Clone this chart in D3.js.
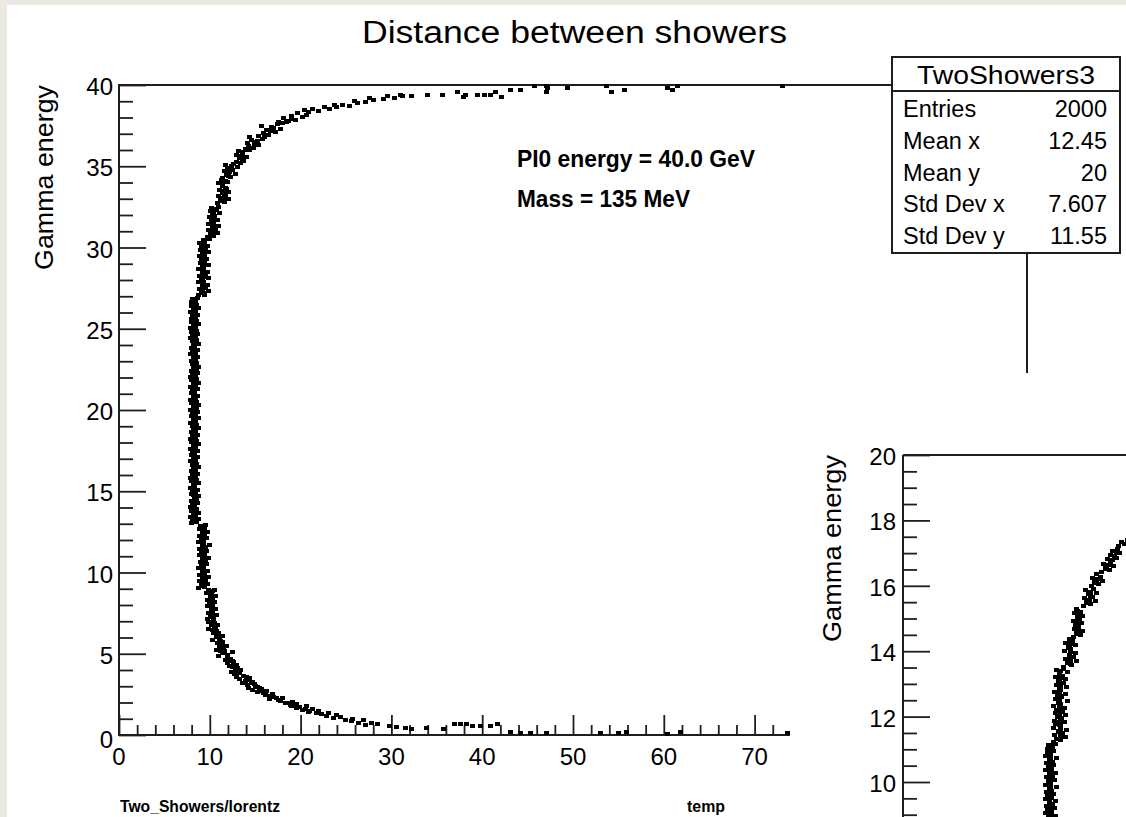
<!DOCTYPE html>
<html><head><meta charset="utf-8">
<script src="https://cdn.jsdelivr.net/npm/d3@7"></script>
<style>
html,body{margin:0;padding:0;background:#ece9e3;}
svg{display:block;}
text{font-family:"Liberation Sans",Arial,Helvetica,sans-serif;fill:#000;}
</style></head><body>
<svg id="c" width="1126" height="817"></svg>
<script>
// ---------------- DATA (distance, gamma energy) ----------------
const mainLowTail = [[33.9,0.43],[35.7,0.37],[37.0,0.68],[37.6,0.68],[38.3,0.68],[38.9,0.55],[39.8,0.55],[40.9,0.55],[41.7,0.68],[43.1,0.18],[44.2,0.12],[45.3,0.12],[47.1,0.12],[53.0,0.12],[55.0,0.12],[55.9,0.18],[60.4,0.06],[61.8,0.18],[73.6,0.12]];
const mainLowCurve = [[30.6,0.48],[31.5,0.43],[32.2,0.40],
[27.2,0.62],[28.5,0.66],[29.8,0.58],[26.4,0.76],[27.8,0.72],[25.6,0.86],[26.9,0.90],
[24.9,0.95],[25.7,1.00],[23.6,1.05],[24.4,1.12],[22.9,1.18],[23.9,1.24],[22.3,1.30],[23.1,1.36],
[21.8,1.38],[20.9,1.44],[22.0,1.50],[20.2,1.55],[21.3,1.60],[19.5,1.66],
[19.9,1.74],[20.6,1.78],[18.9,1.85],[19.6,1.92],[18.3,1.98],[19.1,2.04],[17.8,2.10],
[17.6,2.18],[16.6,2.24],[18.0,2.30],[17.0,2.36],[16.1,2.44],[16.9,2.50],[15.9,2.56],
[15.2,2.62],[16.2,2.68],[14.7,2.75],[15.7,2.82],[14.3,2.92],[15.3,2.98],[14.1,3.08],[14.9,3.14],
[13.6,3.22],[14.7,3.27],[14.1,3.38],[13.3,3.45],[14.4,3.50],[12.9,3.60],[13.7,3.66],[12.7,3.74],
[12.4,3.85],[13.3,3.90],[12.85,4.02],[13.1,4.12],[12.2,4.22],[12.9,4.30],[11.9,4.42],[12.6,4.50],[11.7,4.62],[12.3,4.70],
[11.0,4.85],[11.9,4.90],[11.45,5.02],[12.5,5.08],[11.2,5.15],
[10.7,5.25],[11.5,5.31],[11.05,5.45],[11.85,5.50],[10.8,5.64],[11.4,5.70],
[10.3,5.86],[11.1,5.92],[10.7,6.05],[11.35,6.11],[10.4,6.25],[10.95,6.30],[10.25,6.45],
[9.9,6.55],[10.65,6.60],[10.2,6.75],[10.85,6.80],[9.85,6.95],[10.45,7.02]];
const mainLowCurveFill = [[10.55,6.88],[10.50,6.68],[10.70,6.38],[10.85,6.18],[11.20,5.78],[11.30,5.58],[11.25,5.38],[11.60,5.19],[12.00,4.95],[12.00,4.78],[12.55,4.58],[12.65,4.36],[12.45,4.18],[13.40,3.97],[13.20,3.80],[14.00,3.56],[13.90,3.33],[14.60,3.18],[15.00,3.02],[15.50,2.88],[15.80,2.72],[17.30,2.28],[16.70,2.40],[19.00,1.80],[18.60,2.00],[21.00,1.50],[20.50,1.62]];
const mainLowBand = [[9.75,7.12],[10.40,7.18],[10.05,7.33],[10.70,7.38],[9.85,7.52],[10.30,7.58],[10.15,7.72],[10.62,7.77],[9.70,7.91],[10.25,7.97],[9.95,8.12],[10.55,8.17],[9.80,8.31],[10.35,8.37],[10.08,8.52],[10.66,8.56],[9.68,8.71],[10.20,8.77],[9.90,8.90],[10.48,8.95],
[8.80,9.05],[9.45,9.10],[9.10,9.27],[9.78,9.31],[8.92,9.46],[9.55,9.52],[9.22,9.66],[9.88,9.70],[8.85,9.86],[9.40,9.91],[9.15,10.05],[9.70,10.11],[8.78,10.26],[9.35,10.30],[9.05,10.45],[9.62,10.52],[8.95,10.66],[9.50,10.70],[9.25,10.86],[9.82,10.90],[8.82,11.05],[9.42,11.11],[9.12,11.26],[9.68,11.30],[8.90,11.46],[9.48,11.50],[9.20,11.65],[9.92,11.71],[8.76,11.85],[9.33,11.90],[9.08,12.06],[9.64,12.10],[8.88,12.25],[9.44,12.31],[9.18,12.46],[9.75,12.50],[8.83,12.65],[9.38,12.71],[9.02,12.85],[9.58,12.90]];
const mainLowBandFill = [[10.20,7.25],[10.28,7.45],[10.22,7.65],[10.30,7.85],[10.18,8.05],[10.25,8.25],[10.32,8.45],[10.21,8.65],[10.27,8.85],
[9.30,9.18],[9.25,9.38],[9.34,9.58],[9.28,9.78],[9.22,9.98],[9.31,10.18],[9.27,10.38],[9.36,10.58],[9.24,10.78],[9.30,10.98],[9.33,11.18],[9.25,11.38],[9.38,11.58],[9.28,11.78],[9.21,11.98],[9.32,12.18],[9.27,12.38],[9.35,12.58],[9.23,12.78]];
const mainMidBand = [[7.95,13.02],[8.52,13.08],[8.10,13.21],[8.71,13.27],[7.88,13.40],[8.44,13.46],[8.20,13.63],[8.79,13.66],[8.02,13.81],[8.58,13.88],[7.91,14.03],[8.37,14.07],[8.14,14.22],[8.66,14.29],[7.99,14.41],[8.49,14.47],[8.26,14.62],[8.81,14.68],[7.93,14.83],[8.41,14.86],[8.07,15.02],[8.62,15.09],[7.86,15.23],[8.35,15.27],[8.18,15.44],[8.73,15.48],[8.01,15.62],[8.55,15.69],[7.90,15.82],[8.45,15.87],[8.12,16.03],[8.68,16.08],[7.97,16.24],[8.39,16.29],[8.23,16.43],[8.77,16.47],[8.05,16.64],[8.51,16.70],[7.89,16.84],[8.43,16.88],[8.16,17.03],[8.70,17.09],[7.94,17.22],[8.36,17.29],[8.09,17.44],[8.60,17.48],[7.87,17.63],[8.47,17.68],[8.21,17.83],[8.75,17.89],[8.00,18.03],[8.53,18.07],[7.92,18.24],[8.40,18.29],[8.13,18.43],[8.67,18.49],[7.98,18.62],[8.48,18.68],[8.25,18.84],[8.80,18.87],[8.04,19.03],[8.57,19.09],[7.88,19.23],[8.42,19.27],[8.17,19.44],[8.71,19.48],[7.95,19.62],[8.38,19.69],[8.11,19.83],[8.63,19.88],[7.90,20.03],[8.50,20.08],[8.22,20.22],[8.76,20.28],[8.03,20.43],[8.54,20.47],[7.86,20.64],[8.44,20.68],[8.15,20.82],[8.69,20.89],[7.96,21.03],[8.37,21.07],[8.08,21.24],[8.61,21.29],[7.91,21.42],[8.46,21.48],[8.19,21.63],[8.74,21.68],[8.02,21.83],[8.52,21.88],[7.89,22.02],[8.41,22.08],[8.13,22.22],[8.66,22.29],[7.97,22.43],[8.49,22.47],[8.24,22.64],[8.78,22.67],[8.06,22.83],[8.56,22.89],[7.93,23.03],[8.40,23.07],[8.16,23.24],[8.70,23.28],[7.87,23.42],[8.45,23.49],[8.10,23.62],[8.64,23.68],[7.99,23.84],[8.36,23.88],[8.20,24.03],[8.77,24.08],[8.04,24.22],[8.55,24.29],[7.92,24.43],[8.43,24.47],[8.14,24.63],[8.68,24.69],[7.96,24.82],[8.50,24.88],[7.88,25.03],[8.39,25.07],[8.22,25.24],[8.74,25.27],[8.01,25.43],[8.57,25.48],[7.94,25.62],[8.42,25.69],[8.12,25.83],[8.65,25.87],[7.90,26.04],[8.47,26.08],[8.18,26.23],[8.72,26.28],[8.03,26.42],[8.53,26.48],[7.95,26.63],[8.41,26.67],[8.09,26.84],[8.62,26.88]];
const mainMidBandFill = [[8.30,13.12],[8.26,13.33],[8.34,13.55],[8.29,13.74],[8.22,13.95],[8.31,14.15],[8.27,14.35],[8.36,14.55],[8.24,14.75],[8.30,14.95],[8.33,15.16],[8.25,15.35],[8.38,15.55],[8.28,15.76],[8.21,15.95],[8.32,16.16],[8.27,16.36],[8.35,16.56],[8.23,16.76],[8.30,16.96],[8.28,17.16],[8.34,17.36],[8.24,17.56],[8.31,17.76],[8.26,17.96],[8.37,18.16],[8.29,18.36],[8.22,18.56],[8.33,18.76],[8.27,18.96],[8.35,19.16],[8.25,19.36],[8.30,19.56],[8.28,19.76],[8.36,19.96],[8.23,20.16],[8.32,20.36],[8.27,20.56],[8.34,20.76],[8.26,20.96],[8.31,21.16],[8.24,21.36],[8.38,21.56],[8.29,21.76],[8.22,21.96],[8.33,22.16],[8.27,22.36],[8.35,22.56],[8.25,22.76],[8.30,22.96],[8.28,23.16],[8.34,23.36],[8.23,23.56],[8.31,23.76],[8.26,23.96],[8.37,24.16],[8.29,24.36],[8.22,24.56],[8.33,24.76],[8.27,24.96],[8.35,25.16],[8.25,25.36],[8.30,25.56],[8.28,25.76],[8.36,25.96],[8.24,26.16],[8.32,26.36],[8.27,26.56],[8.34,26.76]];
const mainHighBand = [[8.75,27.05],[9.40,27.10],[9.05,27.25],[9.85,27.30],[8.85,27.46],[9.55,27.50],[9.20,27.66],[9.75,27.71],[8.80,27.85],[9.35,27.90],[9.10,28.06],[9.90,28.11],[8.90,28.25],[9.50,28.31],[9.25,28.46],[9.70,28.50],[8.78,28.65],[9.30,28.71],[9.15,28.86],[9.82,28.90],[8.95,29.05],[9.45,29.10],[9.05,29.26],[9.65,29.30],[8.82,29.45],[9.38,29.51],[9.20,29.66],[9.88,29.70],[8.98,29.85],[9.52,29.91],[9.12,30.05],[9.72,30.11],[8.88,30.25],[9.42,30.30],[9.28,30.45],[9.95,30.50],
[9.80,30.65],[10.45,30.70],[10.10,30.86],[10.90,30.90],[9.90,31.05],[10.60,31.11],[10.25,31.26],[11.00,31.30],[9.85,31.45],[10.40,31.51],[10.15,31.66],[10.80,31.70],[9.95,31.85],[10.55,31.91],[10.30,32.06],[11.05,32.10],[10.05,32.25],[10.70,32.31],[10.20,32.46],[10.95,32.52]];
const mainHighBandFill = [[9.30,27.18],[9.25,27.38],[9.34,27.58],[9.28,27.78],[9.22,27.98],[9.31,28.18],[9.27,28.38],[9.36,28.58],[9.24,28.78],[9.30,28.98],[9.33,29.18],[9.25,29.38],[9.38,29.58],[9.28,29.78],[9.21,29.98],[9.32,30.18],[9.37,30.38],
[10.35,30.78],[10.42,30.98],[10.30,31.18],[10.45,31.38],[10.38,31.58],[10.33,31.78],[10.44,31.98],[10.40,32.18],[10.52,32.38]];
const mainHighCurve = [[10.90,32.72],[11.60,32.78],[11.20,32.93],[12.05,32.98],[10.95,33.14],[11.70,33.19],[11.35,33.35],[12.10,33.40],[11.05,33.55],[11.80,33.61],[11.45,33.76],[11.00,33.96],[11.90,34.02],[11.30,34.15],
[11.40,34.28],[12.30,34.34],[11.85,34.48],[12.80,34.55],[11.60,34.69],[12.45,34.75],[12.00,34.90],[13.00,34.96],[11.75,35.10],[12.60,35.16],
[12.90,35.28],[13.70,35.34],[13.30,35.50],[14.05,35.56],[12.95,35.70],[13.55,35.77],[13.20,35.92],[13.95,35.98],
[13.90,36.05],[14.80,36.12],[14.30,36.25],[15.40,36.31],[14.10,36.44],[15.00,36.50],[14.60,36.62],[15.80,36.68],[14.40,36.78],
[15.40,36.88],[16.50,36.92],[15.90,37.05],[17.20,37.10],[16.20,37.25],[17.80,37.30],[16.80,37.42],[15.70,37.48],[17.50,37.58],[18.00,37.66],
[17.60,37.74],[18.70,37.80],[19.40,37.86],[18.10,37.95],[20.20,38.02],[19.00,38.10],[20.60,38.18],[19.70,38.26],
[20.90,38.35],[22.00,38.40],[21.30,38.50],[23.20,38.52],[22.60,38.62],[24.00,38.66],[20.40,38.44],[23.70,38.76],
[24.60,38.80],[25.40,38.72],[26.30,38.88],[27.10,38.95],[25.90,39.02],[28.00,39.05],[29.10,39.12],[30.30,39.18],[27.60,39.20],[31.20,39.30]];
const mainHighCurveFill = [[11.45,32.85],[11.55,33.05],[11.65,33.27],[11.50,33.47],[11.72,33.68],[11.40,33.88],[11.75,34.08],[12.05,34.40],[12.20,34.62],[12.35,34.83],[12.40,35.03],[13.35,35.22],[13.65,35.42],[13.45,35.63],[13.60,35.85],[14.40,36.00],[14.90,36.36],[15.20,36.56],[16.00,36.80],[16.70,37.18],[17.00,37.36],[18.40,37.70],[19.00,37.92]];
const mainHighTail = [[29.6,39.30],[31.0,39.40],[32.2,39.35],[34.0,39.38],[35.6,39.38],[37.3,39.57],[37.9,39.26],[38.2,39.38],[39.5,39.38],[40.3,39.38],[40.9,39.38],[41.5,39.57],[42.1,39.26],[43.1,39.69],[44.2,39.69],[45.8,39.94],[47.1,39.94],[47.2,39.82],[47.1,39.57],[49.4,39.82],[53.7,39.94],[54.2,39.57],[55.7,39.69],[60.4,39.82],[61.0,39.69],[61.5,39.94],[73.1,39.94]];

const insetLow = [[15.75,8.82],[16.45,8.86],[16.05,8.93],[16.80,8.97],[15.65,9.04],[16.30,9.08],[15.95,9.15],[16.65,9.19],[15.80,9.26],[16.50,9.30],[16.10,9.37],[16.85,9.41],[15.70,9.48],[16.35,9.52],[15.90,9.59],[16.60,9.63],[15.85,9.70],[16.40,9.74],[16.15,9.81],[16.90,9.85],[15.68,9.92],[16.25,9.96],[16.00,10.03],[16.70,10.07],[15.78,10.14],[16.48,10.18],[16.08,10.25],[16.82,10.29],[15.72,10.36],[16.32,10.40],[15.98,10.47],[16.62,10.51],[15.82,10.58],[16.42,10.62],[16.12,10.69],[16.88,10.73],[15.66,10.80],[16.28,10.84],[15.94,10.91],[16.58,10.95],[15.86,11.02],[16.46,11.06],[16.05,11.13],[16.75,11.17]];
const insetMid = [[16.60,11.22],[17.40,11.27],[16.95,11.33],[17.90,11.38],[16.70,11.44],[17.55,11.49],[17.10,11.55],[18.05,11.60],[16.55,11.66],[17.30,11.71],[16.85,11.77],[17.75,11.82],[16.65,11.88],[17.45,11.93],[17.05,11.99],[17.95,12.04],[16.75,12.10],[17.60,12.15],[16.90,12.21],[17.80,12.26],[16.58,12.32],[17.35,12.37],[17.15,12.43],[18.10,12.48],[16.80,12.54],[17.50,12.59],[17.00,12.65],[17.85,12.70],[16.68,12.76],[17.40,12.81],[17.20,12.87],[18.00,12.92],[16.88,12.98],[17.65,13.03],[17.08,13.09],[17.92,13.14],[16.78,13.20],[17.55,13.25],[17.25,13.31],[18.15,13.36],[16.95,13.42],[17.70,13.47]];
const insetHigh = [[17.70,13.53],[18.60,13.58],[18.10,13.65],[19.10,13.70],[17.85,13.77],[18.75,13.82],[18.30,13.89],[19.00,13.94],[17.75,14.01],[18.50,14.06],[18.20,14.13],[18.95,14.18],[17.90,14.25],[18.65,14.30],[18.35,14.36],
[18.80,14.44],[19.50,14.49],[19.10,14.56],[19.75,14.61],[18.85,14.68],[19.35,14.73],[19.05,14.80],[19.70,14.85],[18.75,14.92],[19.40,14.97],[19.20,15.04],[19.80,15.09],[18.90,15.16],[19.55,15.21],[19.15,15.28],
[19.85,15.38],[20.70,15.43],[20.25,15.50],[21.20,15.55],[19.95,15.62],[20.85,15.67],[20.40,15.74],[21.35,15.79],[20.10,15.86],[20.95,15.91],
[20.75,15.99],[21.55,16.04],[21.10,16.11],[21.95,16.16],[20.90,16.23],[21.70,16.28],[21.30,16.35],
[21.85,16.42],[22.70,16.47],[22.30,16.55],[23.20,16.60],[22.05,16.68],[22.90,16.73],[22.50,16.81],[23.55,16.86],[22.80,16.94],[23.80,16.99],[23.10,17.07],[23.60,17.14],
[23.75,17.22],[24.40,17.27],[24.05,17.34],[24.70,17.39],[25.30,17.50],[26.20,17.60]];
const insetFill = [[16.25,8.90],[16.20,9.01],[16.28,9.12],[16.22,9.23],[16.30,9.34],[16.18,9.45],[16.26,9.56],[16.24,9.67],[16.29,9.78],[16.21,9.89],[16.27,10.00],[16.23,10.11],[16.31,10.22],[16.19,10.33],[16.26,10.44],[16.22,10.55],[16.28,10.66],[16.20,10.77],[16.25,10.88],[16.24,10.99],[16.30,11.10],
[17.25,11.30],[17.30,11.41],[17.22,11.52],[17.35,11.63],[17.28,11.74],[17.20,11.85],[17.32,11.96],[17.27,12.07],[17.34,12.18],[17.23,12.29],[17.30,12.40],[17.26,12.51],[17.33,12.62],[17.24,12.73],[17.29,12.84],[17.36,12.95],[17.25,13.06],[17.31,13.17],[17.28,13.28],[17.35,13.39],
[18.40,13.62],[18.45,13.74],[18.38,13.86],[18.42,13.98],[18.35,14.10],[18.48,14.22],[18.40,14.34],
[19.25,14.52],[19.30,14.64],[19.22,14.76],[19.35,14.88],[19.28,15.00],[19.33,15.12],[19.27,15.24],
[20.45,15.46],[20.55,15.58],[20.65,15.70],[20.60,15.82],[21.30,16.08],[21.40,16.20],[22.40,16.50],[22.65,16.64],[23.10,16.78],[23.25,16.90],[23.50,17.02]];

const mainXTickLabels = [0,10,20,30,40,50,60,70];
const mainYTickLabels = [0,5,10,15,20,25,30,35,40];
const insetYMajor = [8,10,12,14,16,18,20];
const insetYTickLabels = [10,12,14,16,18,20];
const statNames = ["Entries","Mean x","Mean y","Std Dev x","Std Dev y"];
const statValues = ["2000","12.45","20","7.607","11.55"];

// ---------------- DRAW ----------------
const svg = d3.select("#c");
svg.append("rect").attr("x",7).attr("y",5).attr("width",1119).attr("height",812).attr("fill","#fff");

const ink = "#1e1e1e";
const x = d3.scaleLinear().domain([0,100]).range([119,1027]);
const y = d3.scaleLinear().domain([0,40]).range([735,85]);

// title
svg.append("text").attr("x",574.5).attr("y",43).attr("text-anchor","middle")
  .attr("font-size",31).attr("textLength",425).attr("lengthAdjust","spacingAndGlyphs")
  .text("Distance between showers");

// frame
svg.append("rect").attr("x",119).attr("y",85).attr("width",908).attr("height",650)
  .attr("fill","none").attr("stroke",ink).attr("stroke-width",2);

function drawYAxis(g, sc, major, minorStep, lo, hi, tickLen, minorLen){
  const majorAx = d3.axisRight(sc).tickValues(major).tickSize(tickLen).tickFormat("");
  const minors = d3.range(lo, hi+1e-9, minorStep).filter(v => !major.some(m => Math.abs(m-v)<1e-6));
  const minorAx = d3.axisRight(sc).tickValues(minors).tickSize(minorLen).tickFormat("");
  g.append("g").call(majorAx).call(s=>s.select(".domain").remove()).selectAll("line").attr("stroke",ink).attr("stroke-width",1.8);
  g.append("g").call(minorAx).call(s=>s.select(".domain").remove()).selectAll("line").attr("stroke",ink).attr("stroke-width",1.8);
}

// main y axis
const gy = svg.append("g").attr("transform","translate(119,0)");
drawYAxis(gy, y, mainYTickLabels, 1, 0, 40, 27, 14);
svg.append("g").selectAll("text").data(mainYTickLabels).join("text")
  .attr("x",113).attr("y",d => y(d) + (d===0 ? 13 : 10)).attr("text-anchor","end")
  .attr("font-size",24).text(d => d);

// main x axis
const gx = svg.append("g").attr("transform","translate(0,735)");
const xMinor = d3.range(0,100.001,2).filter(v => v%10!==0);
gx.append("g").call(d3.axisTop(x).tickValues(d3.range(0,100.001,10)).tickSize(20).tickFormat(""))
  .call(s=>s.select(".domain").remove()).selectAll("line").attr("stroke",ink).attr("stroke-width",1.8);
gx.append("g").call(d3.axisTop(x).tickValues(xMinor).tickSize(10).tickFormat(""))
  .call(s=>s.select(".domain").remove()).selectAll("line").attr("stroke",ink).attr("stroke-width",1.8);
svg.append("g").selectAll("text").data(mainXTickLabels).join("text")
  .attr("x",d => x(d)).attr("y",765).attr("text-anchor","middle")
  .attr("font-size",24).text(d => d);

// axis titles
svg.append("text").attr("transform","translate(53,85) rotate(-90)").attr("text-anchor","end")
  .attr("font-size",25).attr("textLength",185).attr("lengthAdjust","spacingAndGlyphs").text("Gamma energy");
svg.append("text").attr("x",120).attr("y",812).attr("font-size",16).attr("font-weight","bold")
  .attr("textLength",160).attr("lengthAdjust","spacingAndGlyphs").text("Two_Showers/lorentz");
svg.append("text").attr("x",687).attr("y",812).attr("font-size",16).attr("font-weight","bold")
  .attr("textLength",38).attr("lengthAdjust","spacingAndGlyphs").text("temp");

// annotations
svg.append("text").attr("x",517).attr("y",167).attr("font-size",23).attr("font-weight","bold")
  .attr("textLength",238).attr("lengthAdjust","spacingAndGlyphs").text("PI0 energy = 40.0 GeV");
svg.append("text").attr("x",517).attr("y",207).attr("font-size",23).attr("font-weight","bold")
  .attr("textLength",173).attr("lengthAdjust","spacingAndGlyphs").text("Mass = 135 MeV");

// main points
const mainAll = [].concat(mainLowTail, mainLowCurve, mainLowCurveFill, mainLowBand, mainLowBandFill,
  mainMidBand, mainMidBandFill, mainHighBand, mainHighBandFill, mainHighCurve, mainHighCurveFill, mainHighTail);
svg.append("g").attr("shape-rendering","crispEdges").selectAll("rect").data(mainAll).join("rect")
  .attr("x",d => x(d[0]) - 2.5).attr("y",d => y(d[1]) - 2)
  .attr("width",5).attr("height",4).attr("fill","#000");

// stats box
const sb = svg.append("g");
sb.append("rect").attr("x",892).attr("y",57).attr("width",228).attr("height",196)
  .attr("fill","#fff").attr("stroke",ink).attr("stroke-width",2);
sb.append("line").attr("x1",892).attr("x2",1120).attr("y1",91).attr("y2",91).attr("stroke",ink).attr("stroke-width",2);
sb.append("text").attr("x",1006).attr("y",84).attr("text-anchor","middle").attr("font-size",26)
  .attr("textLength",178).attr("lengthAdjust","spacingAndGlyphs").text("TwoShowers3");
sb.selectAll("text.n").data(statNames).join("text").attr("class","n")
  .attr("x",903).attr("y",(d,i) => 117 + i*31.8).attr("font-size",23.5).text(d => d);
sb.selectAll("text.v").data(statValues).join("text").attr("class","v")
  .attr("x",1107).attr("y",(d,i) => 117 + i*31.8).attr("text-anchor","end").attr("font-size",23.5).text(d => d);

// ---------------- INSET ----------------
svg.append("rect").attr("x",790).attr("y",373).attr("width",336).attr("height",444).attr("fill","#fff");
const ix = d3.scaleLinear().domain([0,100]).range([903,1811]);
const iy = d3.scaleLinear().domain([0,20]).range([1109,455]);
svg.append("line").attr("x1",903).attr("x2",1126).attr("y1",455).attr("y2",455).attr("stroke",ink).attr("stroke-width",2);
svg.append("line").attr("x1",903).attr("x2",903).attr("y1",455).attr("y2",817).attr("stroke",ink).attr("stroke-width",2);
const giy = svg.append("g").attr("transform","translate(903,0)");
drawYAxis(giy, iy, insetYMajor, 0.5, 7, 20, 27, 14);
svg.append("g").selectAll("text").data(insetYTickLabels).join("text")
  .attr("x",896).attr("y",d => iy(d) + 10).attr("text-anchor","end")
  .attr("font-size",24).text(d => d);
svg.append("text").attr("transform","translate(841,455) rotate(-90)").attr("text-anchor","end")
  .attr("font-size",25).attr("textLength",187).attr("lengthAdjust","spacingAndGlyphs").text("Gamma energy");
const insetAll = [].concat(insetLow, insetMid, insetHigh, insetFill);
svg.append("g").attr("shape-rendering","crispEdges").selectAll("rect").data(insetAll).join("rect")
  .attr("x",d => ix(d[0]) - 2.5).attr("y",d => iy(d[1]) - 2)
  .attr("width",5).attr("height",4).attr("fill","#000");
</script>
</body></html>
